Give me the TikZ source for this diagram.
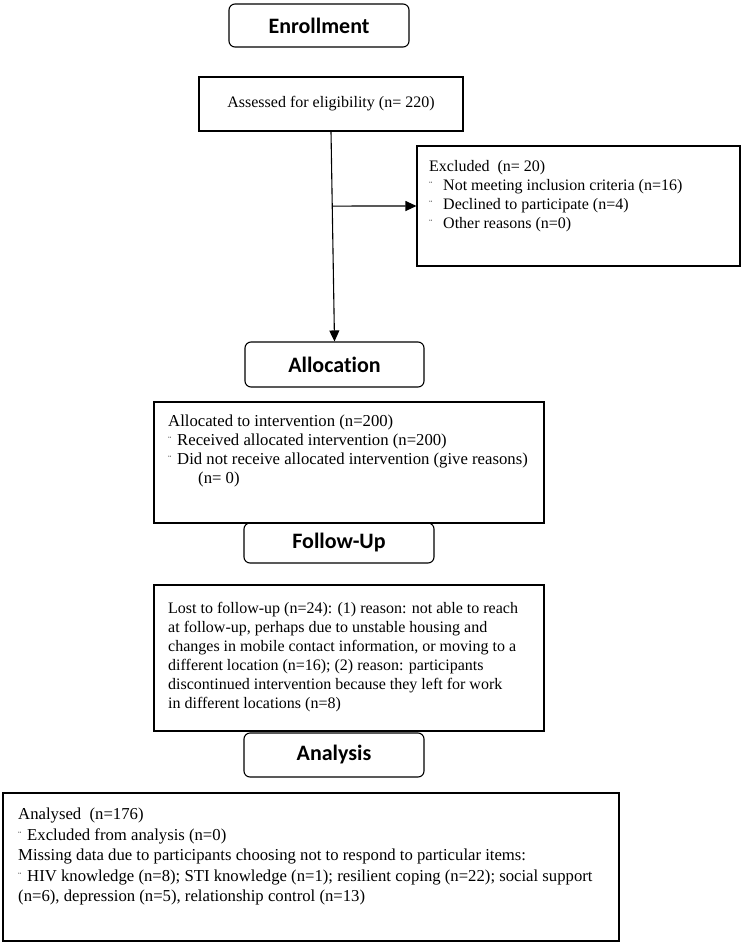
\documentclass[tikz,border=0pt]{standalone}
\usepackage{fontspec}
\setmainfont{Liberation Serif}
\newfontfamily\headfont[Ligatures=NoCommon]{Carlito}
\usetikzlibrary{arrows.meta,positioning,calc}
\newcommand{\tick}[1][9pt]{\makebox[#1][l]{\fontsize{10}{10}\selectfont\raisebox{2pt}{¨}}}

\begin{document}
\begin{tikzpicture}[x=1pt,y=-1pt,
    stage/.style={draw, line width=1.1pt, rounded corners=6pt, inner sep=0pt,
      font=\headfont\bfseries\fontsize{22}{25}\selectfont},
    frame/.style={draw, line width=1.1pt, inner sep=0pt, font=\fontsize{16}{19}\selectfont},
    note/.style={anchor=north west, align=left, inner sep=0pt, font=\fontsize{16}{19}\selectfont},
    arrow/.style={line width=1.1pt, -{Triangle[length=11pt,width=10pt]}}]
        \useasboundingbox (0,0) rectangle (744,947);
        % stage headings
        \node[stage, minimum width=180, minimum height=43] (enrol) at (319,25.5) {Enrollment};
        \node[stage, minimum width=179, minimum height=45] (alloc) at (334.5,364.5) {Allocation};
        \node[stage, minimum width=190, minimum height=40] (follow) at (339,543) {Follow-Up};
        \node[stage, minimum width=180, minimum height=44] (analysis) at (334,755) {Analysis};
        % boxes
        \node[frame, minimum width=264, minimum height=54] (assess) at (331,104) {Assessed for eligibility (n= 220)};
        \node[frame, minimum width=323, minimum height=120] (excl) at (578.5,206) {};
        \node[frame, minimum width=390, minimum height=121] (given) at (349,462.5) {};
        \node[frame, minimum width=390, minimum height=146] (lost) at (349,658) {};
        \node[frame, minimum width=616, minimum height=148] (analysed) at (311,867) {};
        % texts in the boxes
        \node[note] (excltxt) at (429,160) {Excluded\ \ (n= 20)\\
          \tick[14pt]Not meeting inclusion criteria (n=16)\\
          \tick[14pt]Declined to participate (n=4)\\
          \tick[14pt]Other reasons (n=0)};
        \node[note, font=\fontsize{16.7}{19}\selectfont] (giventxt) at (168,415) {Allocated to intervention (n=200)\\
          \tick Received allocated intervention (n=200)\\
          \tick Did not receive allocated intervention (give reasons)\\
          \hspace*{30pt}(n= 0)};
        \node[note] (losttxt) at (168,602) {Lost to follow-up (n=24): (1) reason: not able to reach\\
          at follow-up, perhaps due to unstable housing and\\
          changes in mobile contact information, or moving to a\\
          different location (n=16); (2) reason: participants\\
          discontinued intervention because they left for work\\
          in different locations (n=8)};
        \node[note, font=\fontsize{16.7}{20.5}\selectfont] (analysedtxt) at (18,808) {Analysed\ \ (n=176)\\
          \tick Excluded from analysis (n=0)\\
          Missing data due to participants choosing not to respond to particular items:\\
          \tick HIV knowledge (n=8); STI knowledge (n=1); resilient coping (n=22); social support\\
          (n=6), depression (n=5), relationship control (n=13)};
        % arrows
        \draw[arrow] (assess.south) -- (alloc.north);
        \coordinate (split) at ($(assess.south)!0.355!(alloc.north)$);
        \draw[arrow] (split) -- (excl.west);
\end{tikzpicture}
\end{document}
